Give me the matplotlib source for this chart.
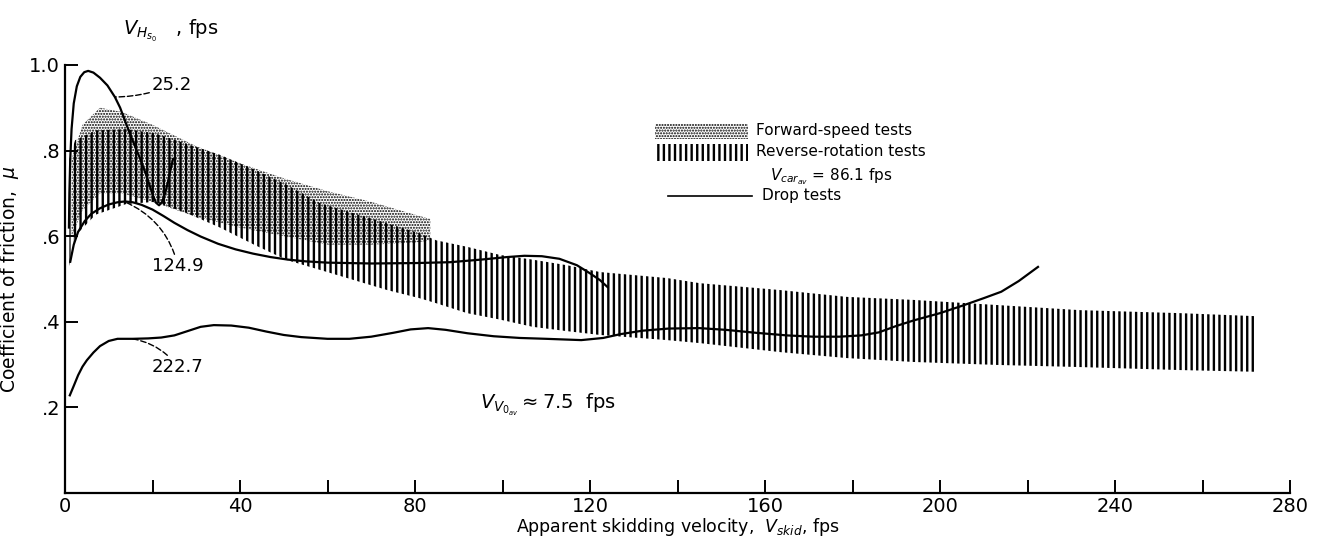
import numpy as np
import matplotlib.pyplot as plt
from matplotlib.patches import Rectangle
from matplotlib.lines import Line2D

# Reverse-rotation tests band (vertical hatching)
rev_x = [1, 2.3, 7, 14, 20.6, 28, 35.4, 43.4, 50.7, 58.3, 73.6, 81, 84.9, 91.9,
         99.4, 106.9, 114.7, 122.3, 137.6, 145.1, 163.4, 178.7, 193.8, 213, 232, 254.9, 272]
rev_hi = [0.78, 0.824, 0.847, 0.85, 0.84, 0.815, 0.79, 0.755, 0.72, 0.677, 0.63, 0.607, 0.59, 0.575,
          0.556, 0.545, 0.532, 0.516, 0.502, 0.49, 0.474, 0.458, 0.451, 0.439, 0.427, 0.42, 0.413]
rev_lo = [0.53, 0.6, 0.65, 0.675, 0.68, 0.653, 0.62, 0.579, 0.544, 0.521, 0.474, 0.455, 0.443, 0.42,
          0.405, 0.388, 0.378, 0.369, 0.357, 0.35, 0.329, 0.315, 0.306, 0.299, 0.294, 0.287, 0.283]

# Forward-speed tests band (stipple)
fwd_x = [1.5, 4, 8, 13, 20, 30, 40, 50, 60, 70, 80, 83.5]
fwd_hi = [0.78, 0.86, 0.9, 0.89, 0.86, 0.81, 0.77, 0.735, 0.705, 0.68, 0.65, 0.64]
fwd_lo = [0.6, 0.66, 0.7, 0.7, 0.68, 0.645, 0.62, 0.6, 0.58, 0.58, 0.585, 0.59]

# Drop tests, V_Hs0 = 25.2 fps
d25_x = [0.9, 1.0, 1.2, 1.5, 2.0, 2.7, 3.5, 4.4, 5.3, 6.5, 8, 9.7, 11.4, 12.6, 13.7, 14.8,
         16, 17.2, 18.3, 19.3, 20.1, 20.8, 21.5, 22.2, 22.9, 23.5, 24, 24.7]
d25_y = [0.62, 0.70, 0.78, 0.85, 0.91, 0.95, 0.972, 0.983, 0.986, 0.982, 0.97, 0.952, 0.925,
         0.9, 0.87, 0.84, 0.81, 0.78, 0.75, 0.72, 0.695, 0.678, 0.672, 0.68, 0.7, 0.725, 0.75, 0.78]

# Drop tests, V_Hs0 = 124.9 fps
d124_x = [1.2, 2, 3, 4.5, 6, 8, 10, 12, 13.7, 15.5, 17.5, 20, 22.5, 25, 28, 31, 35, 39, 43,
          47, 51, 55, 60, 70, 80, 88, 95, 101, 105, 109, 113, 117, 120, 122.3, 124]
d124_y = [0.54, 0.58, 0.61, 0.635, 0.652, 0.665, 0.674, 0.679, 0.681, 0.679, 0.673, 0.662,
          0.647, 0.631, 0.614, 0.599, 0.582, 0.569, 0.559, 0.551, 0.545, 0.541, 0.538, 0.536,
          0.537, 0.539, 0.545, 0.551, 0.554, 0.553, 0.547, 0.532, 0.513, 0.497, 0.481]

# Drop tests, V_Hs0 = 222.7 fps
d222_x = [1.1, 2, 3, 4, 5, 6.5, 8, 10, 12, 15.5, 19, 22, 25, 28, 31, 34, 38, 42, 46, 50, 54,
          60, 65, 70, 75, 79, 83, 87, 92, 98, 104, 110, 118, 123, 127, 132, 138, 145, 151,
          158, 165, 171, 177, 182, 186, 190, 194, 200, 205, 210, 214, 218, 222.4]
d222_y = [0.228, 0.25, 0.275, 0.295, 0.31, 0.328, 0.343, 0.355, 0.36, 0.36, 0.361, 0.363,
          0.368, 0.378, 0.388, 0.392, 0.391, 0.386, 0.377, 0.369, 0.364, 0.36, 0.36, 0.365,
          0.374, 0.382, 0.385, 0.381, 0.373, 0.366, 0.362, 0.36, 0.357, 0.362, 0.371, 0.379,
          0.384, 0.385, 0.381, 0.374, 0.368, 0.365, 0.365, 0.368, 0.375, 0.39, 0.403, 0.42,
          0.437, 0.455, 0.47, 0.495, 0.528]

x_major = [0, 40, 80, 120, 160, 200, 240, 280]
x_minor = [20, 60, 100, 140, 180, 220, 260]
y_ticks = [0.2, 0.4, 0.6, 0.8, 1.0]
y_labels = ['.2', '.4', '.6', '.8', '1.0']

plt.rcParams['font.family'] = 'DejaVu Sans'
plt.rcParams['hatch.color'] = 'black'

fig = plt.figure(figsize=(13.18, 5.41), dpi=100)
ax = fig.add_axes([65 / 1318, 48.1 / 541, 1225 / 1318, 428 / 541])

# bands
plt.rcParams['hatch.linewidth'] = 1.0
ax.fill_between(fwd_x, fwd_lo, fwd_hi, facecolor='none', edgecolor='black',
                hatch='......', linewidth=0)
plt.rcParams['hatch.linewidth'] = 1.7
ax.fill_between(rev_x, rev_lo, rev_hi, facecolor='none', edgecolor='black',
                hatch='|||', linewidth=0)

# drop test curves
for xs, ys in [(d25_x, d25_y), (d124_x, d124_y), (d222_x, d222_y)]:
    ax.plot(xs, ys, color='black', lw=1.6, solid_joinstyle='round')

# curve labels
lead = dict(arrowstyle='-', color='black', lw=1.0, linestyle=(0, (4, 2)))
ax.annotate('25.2', xy=(11.4, 0.925), xytext=(19.9, 0.953), fontsize=13, va='center',
            arrowprops=dict(lead, connectionstyle='arc3,rad=-0.1', shrinkA=0, shrinkB=0))
ax.annotate('124.9', xy=(13.7, 0.68), xytext=(19.9, 0.53), fontsize=13, va='center',
            arrowprops=dict(lead, connectionstyle='arc3,rad=0.25', shrinkA=0, shrinkB=0))
ax.annotate('222.7', xy=(15.5, 0.36), xytext=(19.9, 0.294), fontsize=13, va='center',
            arrowprops=dict(lead, connectionstyle='arc3,rad=0.2', shrinkA=0, shrinkB=0))

ax.text(13.3, 1.08, r'$V_{H_{s_0}}$   , fps', fontsize=14, va='center', clip_on=False)
ax.text(94.9, 0.205, r'$V_{V_{0_{av}}}$$\approx$7.5  fps', fontsize=14, va='center')

# legend drawn by hand
plt.rcParams['hatch.linewidth'] = 1.0
ax.add_patch(Rectangle((0.4816, 0.827), 0.076, 0.035, transform=ax.transAxes,
                       facecolor='none', edgecolor='black', hatch='......', linewidth=0))
plt.rcParams['hatch.linewidth'] = 1.7
ax.add_patch(Rectangle((0.4816, 0.776), 0.076, 0.039, transform=ax.transAxes,
                       facecolor='none', edgecolor='black', hatch='|||', linewidth=0))
ax.add_line(Line2D([0.492, 0.561], [0.694, 0.694], transform=ax.transAxes,
                   color='black', lw=1.2))
ax.text(0.564, 0.846, 'Forward-speed tests', transform=ax.transAxes, fontsize=11, va='center')
ax.text(0.564, 0.797, 'Reverse-rotation tests', transform=ax.transAxes, fontsize=11, va='center')
ax.text(0.5755, 0.738, r'$V_{car_{av}}$ = 86.1 fps', transform=ax.transAxes, fontsize=11, va='center')
ax.text(0.569, 0.694, 'Drop tests', transform=ax.transAxes, fontsize=11, va='center')

# axes styling
ax.set_xlim(0, 280)
ax.set_ylim(0, 1.0)
ax.spines['top'].set_visible(False)
ax.spines['right'].set_visible(False)
for s in ['left', 'bottom']:
    ax.spines[s].set_linewidth(1.6)
ax.set_xticks(x_major)
ax.set_xticks(x_minor, minor=True)
ax.set_yticks(y_ticks)
ax.set_yticklabels(y_labels)
ax.tick_params(axis='both', which='both', direction='in', length=9.5, width=1.4, labelsize=14)
ax.tick_params(axis='x', which='major', pad=3)
ax.set_xlabel(r'Apparent skidding velocity,  $V_{skid}$, fps', fontsize=12.5, labelpad=0)
ax.set_ylabel(r'Coefficient of friction,  $\mu$', fontsize=13.5, labelpad=6)

plt.savefig('out.png', dpi=100)
